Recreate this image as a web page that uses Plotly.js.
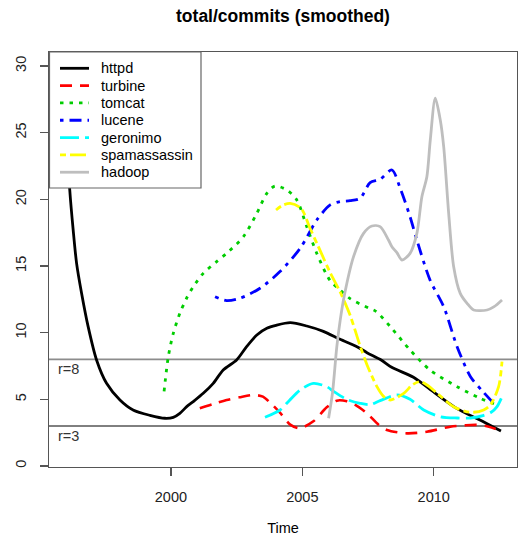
<!DOCTYPE html>
<html>
<head>
<meta charset="utf-8">
<script src="https://cdn.plot.ly/plotly-3.0.1.min.js"></script>
<style>html,body{margin:0;padding:0;background:#fff;}#chart{width:518px;height:538px;}</style>
</head>
<body>
<div id="chart"></div>
<script>
// ---- data ----
var seriesNames = ["httpd", "turbine", "tomcat", "lucene", "geronimo", "spamassassin", "hadoop"];
var seriesColors = ["#000000", "#FF0000", "#00CD00", "#0000FF", "#00FFFF", "#FFFF00", "#BEBEBE"];

var years_httpd = [1996.0, 1996.15, 1996.28, 1996.41, 1996.6, 1996.85, 1997.17, 1997.55, 1998.06, 1998.56, 1999.2, 1999.77, 2000.09, 2000.34, 2000.6, 2000.85, 2001.23, 2001.61, 2001.99, 2002.5, 2002.88, 2003.27, 2003.65, 2004.0, 2004.54, 2005.17, 2005.8, 2006.44, 2007.08, 2007.46, 2008.0, 2008.4, 2009.23, 2009.86, 2010.89, 2011.7, 2012.56];
var commits_httpd = [26.0, 20.7, 17.7, 15.2, 12.96, 10.45, 7.95, 6.2, 4.95, 4.2, 3.8, 3.58, 3.65, 3.95, 4.45, 4.83, 5.45, 6.2, 7.2, 7.95, 8.95, 9.83, 10.33, 10.55, 10.75, 10.5, 10.1, 9.5, 8.95, 8.5, 7.95, 7.4, 6.65, 5.75, 4.3, 3.5, 2.62];

var years_turbine = [2001.1, 2001.6, 2002.12, 2002.6, 2003.14, 2003.5, 2003.8, 2004.15, 2004.54, 2004.9, 2005.42, 2005.93, 2006.31, 2006.7, 2007.0, 2007.46, 2007.9, 2008.22, 2008.98, 2009.74, 2010.63, 2011.2, 2011.65, 2012.1, 2012.56];
var commits_turbine = [4.33, 4.65, 4.95, 5.15, 5.33, 5.2, 4.7, 4.0, 3.1, 2.83, 3.35, 4.4, 4.9, 4.85, 4.6, 3.95, 3.1, 2.7, 2.45, 2.57, 2.95, 3.05, 3.08, 2.95, 2.62];

var years_tomcat = [1999.74, 1999.9, 2000.09, 2000.34, 2000.6, 2000.85, 2001.23, 2001.74, 2002.12, 2002.76, 2003.27, 2003.65, 2003.96, 2004.41, 2004.79, 2005.17, 2005.55, 2006.06, 2006.44, 2006.82, 2007.52, 2007.8, 2008.35, 2009.1, 2009.86, 2010.89, 2011.77, 2012.41];
var commits_tomcat = [5.6, 8.2, 9.95, 11.45, 12.6, 13.45, 14.45, 15.33, 15.95, 17.2, 18.95, 20.45, 21.0, 20.7, 19.95, 17.95, 15.95, 13.9, 13.2, 12.55, 11.85, 11.6, 10.45, 8.7, 7.2, 5.95, 5.08, 4.58];

var years_lucene = [2001.68, 2002.12, 2002.63, 2003.39, 2004.15, 2004.92, 2005.55, 2006.06, 2006.44, 2006.82, 2007.2, 2007.58, 2007.96, 2008.41, 2008.73, 2009.1, 2009.36, 2009.86, 2010.38, 2010.89, 2011.4, 2011.91, 2012.41];
var commits_lucene = [12.7, 12.4, 12.58, 13.33, 14.58, 16.33, 18.45, 19.58, 19.83, 19.9, 20.08, 21.25, 21.5, 22.2, 20.8, 18.7, 16.95, 13.95, 11.95, 8.95, 6.7, 5.5, 4.45];

var years_geronimo = [2003.58, 2004.15, 2004.5, 2004.92, 2005.42, 2005.93, 2006.19, 2006.69, 2007.2, 2007.58, 2007.96, 2008.6, 2009.1, 2009.62, 2010.25, 2010.89, 2011.4, 2011.91, 2012.2, 2012.41, 2012.6];
var commits_geronimo = [3.65, 4.2, 4.9, 5.7, 6.2, 5.95, 5.6, 5.0, 4.7, 4.6, 4.9, 5.33, 5.0, 4.2, 3.7, 3.6, 3.6, 3.8, 4.05, 4.45, 5.2];

var years_spamassassin = [2004.0, 2004.25, 2004.54, 2004.95, 2005.3, 2005.6, 2006.06, 2006.44, 2006.82, 2007.2, 2007.46, 2007.84, 2008.1, 2008.35, 2008.86, 2009.2, 2009.49, 2009.8, 2010.13, 2010.76, 2011.2, 2011.52, 2011.9, 2012.16, 2012.47, 2012.6];
var commits_spamassassin = [19.2, 19.55, 19.7, 19.33, 17.8, 16.5, 14.5, 13.05, 11.3, 9.0, 7.6, 5.95, 5.2, 4.95, 5.45, 6.1, 6.33, 6.0, 5.45, 4.45, 4.1, 4.03, 4.2, 4.58, 5.95, 7.83];

var years_hadoop = [2006.0, 2006.15, 2006.31, 2006.44, 2006.6, 2006.95, 2007.33, 2007.65, 2007.96, 2008.28, 2008.41, 2008.6, 2008.79, 2009.1, 2009.36, 2009.55, 2009.74, 2009.87, 2010.06, 2010.25, 2010.38, 2010.57, 2010.76, 2011.01, 2011.27, 2011.52, 2012.03, 2012.3, 2012.6];
var commits_hadoop = [3.58, 5.5, 8.9, 10.9, 12.8, 15.7, 17.45, 18.0, 17.95, 16.95, 16.45, 16.0, 15.45, 15.95, 17.45, 20.2, 21.7, 24.45, 27.58, 25.95, 23.95, 18.95, 14.95, 12.95, 12.2, 11.7, 11.7, 11.95, 12.45];

var refLevels = [8, 3];
var refLabels = ["r=8", "r=3"];
var xTicks = [2000, 2005, 2010];
var yTicks = [0, 5, 10, 15, 20, 25, 30];

// ---- styles ----
var FONT = "Liberation Sans, Arial, Helvetica, sans-serif";
var dashes = ["solid", "12px,8px", "3.5px,6px", "3.5px,6px,12px,6px", "19px,6px", "6px,4px,16px,4px", "solid"];
var widths = [2.8, 2.6, 2.8, 2.8, 2.8, 2.8, 2.8];

var xs = [years_httpd, years_turbine, years_tomcat, years_lucene, years_geronimo, years_spamassassin, years_hadoop];
var ys = [commits_httpd, commits_turbine, commits_tomcat, commits_lucene, commits_geronimo, commits_spamassassin, commits_hadoop];

var traces = seriesNames.map(function (n, i) {
  return {
    type: "scatter", mode: "lines", name: n,
    x: xs[i], y: ys[i],
    line: {color: seriesColors[i], width: widths[i], dash: dashes[i], shape: "spline", smoothing: 0.8},
    showlegend: false, hoverinfo: "skip"
  };
});

// plot area in pixels
var L = 49, R = 1, T = 52, B = 71, W = 518, H = 538;
var pw = W - L - R, ph = H - T - B;
function xp(px) { return (px - L) / pw; }
function yp(py) { return (H - B - py) / ph; }

var shapes = [];
var annotations = [];
refLevels.forEach(function (lv, i) {
  shapes.push({type: "line", xref: "paper", yref: "y", x0: 0, x1: 1, y0: lv, y1: lv,
    line: {color: i === 0 ? "#8c8c8c" : "#000000", width: i === 0 ? 1.6 : 1}, layer: "below"});
  annotations.push({xref: "paper", yref: "y", x: xp(55.5), y: lv, yshift: -10, text: refLabels[i],
    showarrow: false, xanchor: "left", yanchor: "middle", font: {family: FONT, size: 14.5, color: "#333"}});
});

// legend (manual box like R's legend())
shapes.push({type: "rect", xref: "paper", yref: "paper", x0: xp(49.5), x1: xp(201), y0: yp(188), y1: yp(52),
  fillcolor: "#ffffff", line: {color: "#666", width: 1.2}, layer: "above"});
var rowY0 = 68.3, rowGap = 17.32;
seriesNames.forEach(function (n, i) {
  var ry = rowY0 + i * rowGap;
  shapes.push({type: "line", xref: "paper", yref: "paper", x0: xp(60), x1: xp(89), y0: yp(ry), y1: yp(ry),
    line: {color: seriesColors[i], width: widths[i], dash: dashes[i]}, layer: "above"});
  annotations.push({xref: "paper", yref: "paper", x: xp(99), y: yp(ry), text: n, showarrow: false,
    xanchor: "left", yanchor: "middle", font: {family: FONT, size: 14.5, color: "#000"}});
});

var axisCommon = {
  showgrid: false, zeroline: false, showline: true, mirror: true, linecolor: "#555", linewidth: 1.2,
  ticks: "outside", ticklen: 8, tickcolor: "#555", tickwidth: 1.2,
  tickfont: {family: FONT, size: 14.5, color: "#222"}
};

var layout = {
  width: W, height: H,
  margin: {l: L, r: R, t: T, b: B, pad: 0},
  paper_bgcolor: "#fff", plot_bgcolor: "#fff",
  showlegend: false,
  title: {text: "<b>total/commits (smoothed)</b>", font: {family: FONT, size: 17.5, color: "#000"},
    x: 0.5, xref: "paper", y: 1 - 16 / H, yref: "container", yanchor: "middle"},
  xaxis: Object.assign({}, axisCommon, {
    range: [1995.36, 2013.17], tickmode: "array", tickvals: xTicks, ticktext: xTicks.map(String),
    ticklabelstandoff: 8,
    title: {text: "Time", font: {family: FONT, size: 14.5, color: "#000"}, standoff: 19}
  }),
  yaxis: Object.assign({}, axisCommon, {
    range: [-0.075, 31.05], tickmode: "array", tickvals: yTicks, ticktext: yTicks.map(String),
    tickangle: -90, ticklabelstandoff: 8
  }),
  shapes: shapes,
  annotations: annotations
};

Plotly.newPlot("chart", traces, layout, {staticPlot: true, displayModeBar: false});
</script>
</body>
</html>
